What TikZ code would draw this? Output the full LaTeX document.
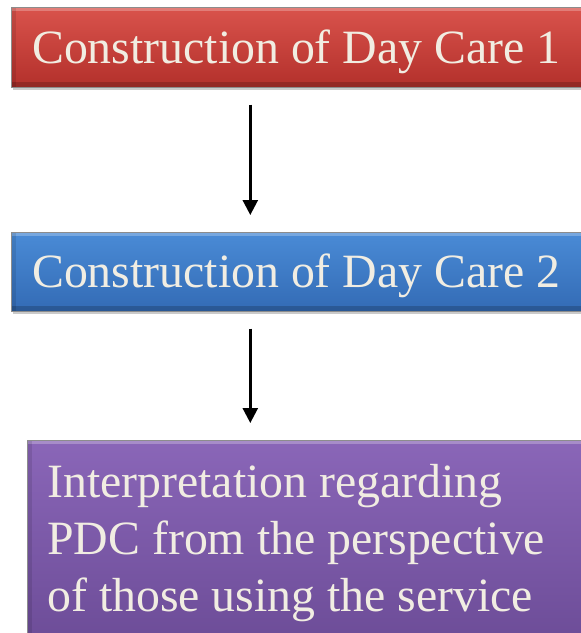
\documentclass[tikz,border=0pt]{standalone}
\usepackage{fontspec}
\setmainfont{Liberation Serif}
\usetikzlibrary{arrows.meta,shadows}
\definecolor{txt}{HTML}{F1EDE2}
\definecolor{redT}{HTML}{D9534C}
\definecolor{redB}{HTML}{B3302B}
\definecolor{bluT}{HTML}{4A8BD6}
\definecolor{bluB}{HTML}{336BB5}
\definecolor{purT}{HTML}{8A66B8}
\definecolor{purB}{HTML}{6C4C97}
\newcommand{\lowered}[1]{\raisebox{-4.5pt}[\height][\depth]{#1}}
\tikzset{
  box/.style={draw=black!45, line width=0.6pt, minimum width=570pt, minimum height=80pt,
    inner sep=0pt, text=txt, font=\fontsize{47.8}{57}\selectfont,
    drop shadow={shadow xshift=2pt, shadow yshift=-3pt, opacity=0.35, fill=black!60},
    path picture={
      \fill[white, opacity=0.25] (path picture bounding box.north west) rectangle ([yshift=-4pt]path picture bounding box.north east);
      \fill[black, opacity=0.18] ([yshift=5pt]path picture bounding box.south west) rectangle (path picture bounding box.south east);
      \fill[black, opacity=0.10] (path picture bounding box.north west) rectangle ([xshift=5pt]path picture bounding box.south west);
    }},
  arr/.style={line width=2.6pt, -{Triangle[width=15pt,length=15pt]}, shorten <=17pt, shorten >=17pt}
}
\begin{document}
\begin{tikzpicture}[x=1pt,y=-1pt]
\useasboundingbox (0,0) rectangle (581,633);
\clip (0,0) rectangle (581,633);
\node[box, top color=redT, bottom color=redB, anchor=north west] (red) at (11,7) {\lowered{Construction of Day Care 1}};
\node[box, top color=bluT, bottom color=bluB, anchor=north west, minimum height=79pt] (blue) at (11,232) {\lowered{Construction of Day Care 2}};
\node[box, top color=purT, bottom color=purB, anchor=north west, minimum width=560pt, minimum height=205pt] (purple) at (27,440)
  {\parbox{520pt}{\raggedright Interpretation regarding\\PDC from the perspective\\of those using the service}};
\draw[arr] ([xshift=-46pt]red.south) -- ([xshift=-46pt]blue.north);
\draw[arr] ([xshift=-46pt]blue.south) -- ([xshift=-57pt]purple.north);
\end{tikzpicture}
\end{document}
